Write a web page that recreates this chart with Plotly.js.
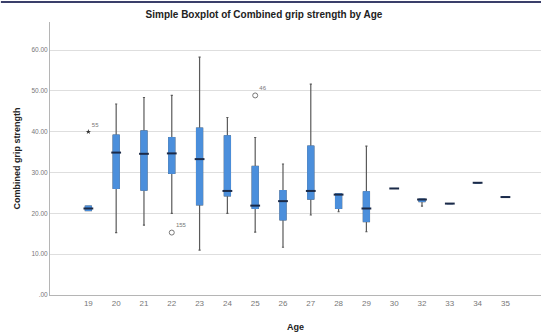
<!DOCTYPE html>
<html>
<head>
<meta charset="utf-8">
<script src="https://cdn.plot.ly/plotly-3.0.1.min.js"></script>
<style>html,body{margin:0;padding:0;background:#fff;} #chart{width:541px;height:336px;}</style>
</head>
<body>
<div id="chart"></div>
<script>
// Categories (Age)
const ages = ["19","20","21","22","23","24","25","26","27","28","29","30","32","33","34","35"];
// Box statistics (Combined grip strength)
const lowerWhisker = [20.7, 15.3, 17.1, 20.0, 11.0, 20.0, 15.4, 11.7, 19.6, 20.4, 15.5, 26.1, 21.8, 22.4, 27.5, 24.0];
const q1Values     = [20.7, 26.1, 25.7, 29.8, 22.1, 24.3, 21.2, 18.4, 23.5, 21.2, 18.0, 26.1, 22.9, 22.4, 27.5, 24.0];
const medianValues = [21.2, 34.9, 34.6, 34.7, 33.3, 25.5, 21.9, 23.0, 25.5, 24.6, 21.2, 26.1, 23.4, 22.4, 27.5, 24.0];
const q3Values     = [21.8, 39.2, 40.2, 38.6, 40.9, 39.0, 31.5, 25.6, 36.5, 24.8, 25.3, 26.1, 23.5, 22.4, 27.5, 24.0];
const upperWhisker = [21.8, 46.8, 48.4, 48.9, 58.3, 43.5, 38.6, 32.1, 51.7, 24.8, 36.5, 26.1, 23.5, 22.4, 27.5, 24.0];
// Outliers
const extremeAges = ["19"];
const extremeValues = [40.0];
const extremeLabels = ["55"];
const outlierAges = ["22", "25"];
const outlierValues = [15.3, 48.9];
const outlierLabels = ["155", "46"];
// Y tick labels
const yTickVals = [0, 10, 20, 30, 40, 50, 60];
const yTickText = [".00", "10.00", "20.00", "30.00", "40.00", "50.00", "60.00"];

const boxBlue = "#4b8fdc";
const whiskerGray = "#5a5a5a";
const font = "Liberation Sans, Arial, sans-serif";

const traces = [
  {
    type: "box", x: ages, q1: q1Values, median: medianValues, q3: q3Values,
    lowerfence: lowerWhisker, upperfence: upperWhisker,
    boxpoints: false, width: 0.22, whiskerwidth: 0.35,
    line: {color: whiskerGray, width: 1.2}, fillcolor: "rgba(0,0,0,0)",
    hoverinfo: "skip", showlegend: false
  },
  {
    type: "box", x: ages, q1: q1Values, median: medianValues, q3: q3Values,
    lowerfence: q1Values, upperfence: q3Values,
    boxpoints: false, width: 0.22, whiskerwidth: 0,
    line: {color: boxBlue, width: 1}, fillcolor: boxBlue,
    hoverinfo: "skip", showlegend: false
  },
  {
    type: "scatter", mode: "markers", x: ages, y: medianValues,
    marker: {symbol: "line-ew", size: 7, line: {color: "#1b2a48", width: 2}},
    hoverinfo: "skip", showlegend: false
  },
  {
    type: "scatter", mode: "markers+text", x: extremeAges, y: extremeValues,
    text: extremeLabels, textposition: "top right",
    textfont: {family: font, size: 6, color: "#777"},
    marker: {symbol: "star", size: 4, color: "#333"},
    hoverinfo: "skip", showlegend: false
  },
  {
    type: "scatter", mode: "markers+text", x: outlierAges, y: outlierValues,
    text: outlierLabels, textposition: "top right",
    textfont: {family: font, size: 6, color: "#777"},
    marker: {symbol: "circle-open", size: 5, color: "#777", line: {width: 1}},
    hoverinfo: "skip", showlegend: false
  }
];

const layout = {
  width: 541, height: 336,
  margin: {l: 50, r: 0, t: 22, b: 41},
  paper_bgcolor: "#fff", plot_bgcolor: "#fff",
  boxmode: "overlay",
  font: {family: font},
  title: {text: "<b>Simple Boxplot of Combined grip strength by Age</b>",
          font: {family: font, size: 10, color: "#222"},
          x: 0.488, xanchor: "center", y: 0.958, yanchor: "middle", yref: "container"},
  xaxis: {
    type: "category", categoryorder: "array", categoryarray: ages,
    range: [-1.38, 16.28], showgrid: false, zeroline: false,
    showline: true, linecolor: "#b5b5b5", linewidth: 1,
    ticks: "", tickfont: {family: font, size: 8, color: "#777"},
    title: {text: "<b>Age</b>", font: {family: font, size: 9, color: "#222"}, standoff: 17}
  },
  yaxis: {
    range: [0, 66.9], tickvals: yTickVals, ticktext: yTickText,
    showgrid: true, gridcolor: "#dedede", gridwidth: 1, zeroline: false,
    showline: true, linecolor: "#b5b5b5", linewidth: 1,
    ticks: "", tickfont: {family: font, size: 6.5, color: "#777"},
    title: {text: "<b>Combined grip strength</b>", font: {family: font, size: 9, color: "#222"}, standoff: 9}
  },
  shapes: [
    {type: "line", xref: "paper", yref: "paper", x0: -0.1, x1: 1, y0: 1.073, y1: 1.073,
     line: {color: "#3a3f6a", width: 2}}
  ]
};

Plotly.newPlot("chart", traces, layout, {displayModeBar: false, staticPlot: true});
</script>
</body>
</html>
